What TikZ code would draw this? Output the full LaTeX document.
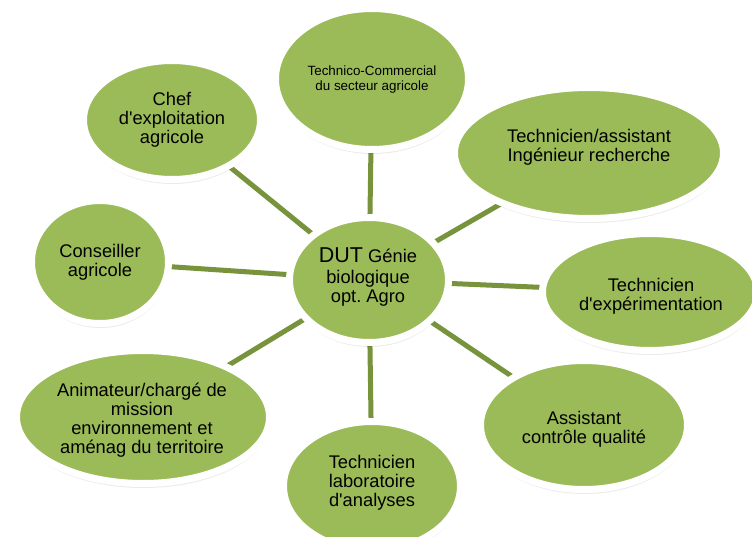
\documentclass[tikz,border=0pt]{standalone}
\usepackage{fontspec}
\setmainfont{Liberation Sans}[Ligatures=TeXOff]
\usetikzlibrary{shapes.geometric,shadows}
\definecolor{leaf}{HTML}{9BBB59}
\definecolor{stem}{HTML}{77933C}
\pgfdeclarelayer{paper}
\pgfdeclarelayer{wires}
\pgfsetlayers{paper,wires,main}
\frenchspacing
\begin{document}
\begin{tikzpicture}[x=1pt,y=-1pt,
  bubble/.style={ellipse, fill=leaf, draw=white, line width=7pt, inner sep=0pt,
    drop shadow={shadow xshift=0.5pt, shadow yshift=-4.5pt, fill=black, opacity=0.08},
    drop shadow={shadow xshift=0.3pt, shadow yshift=-2.5pt, fill=black, opacity=0.10}},
  link/.style={draw=stem, line width=5pt},
  lbl/.style={align=center, text=black, inner sep=0pt, font=\fontsize{18.3}{18.8}\selectfont}]
\begin{pgfonlayer}{paper}
\fill[white] (0,0) rectangle (752,537);
\end{pgfonlayer}
\useasboundingbox (0,0) rectangle (752,537);
% bubbles
\node[bubble, minimum width=159pt, minimum height=125pt] (C)  at (369,280) {};
\node[bubble, minimum width=193pt, minimum height=141pt] (TC) at (372,79) {};
\node[bubble, minimum width=269pt, minimum height=131pt] (TA) at (589,153) {};
\node[bubble, minimum width=215pt, minimum height=117pt] (TE) at (650,292) {};
\node[bubble, minimum width=207pt, minimum height=129pt] (AQ) at (584,425) {};
\node[bubble, minimum width=177pt, minimum height=129pt] (LA) at (372,486) {};
\node[bubble, minimum width=253pt, minimum height=133pt] (AN) at (143,417) {};
\node[bubble, minimum width=137pt, minimum height=123pt] (CO) at (100,262) {};
\node[bubble, minimum width=177pt, minimum height=119pt] (CH) at (172,120) {};
% connectors
\begin{pgfonlayer}{wires}
\draw[link] (C.center) -- (TC.center);
\draw[link] (C.center) -- (TA.center);
\draw[link] (C.center) -- (TE.center);
\draw[link] (C.center) -- (AQ.center);
\draw[link] (C.center) -- (LA.center);
\draw[link] (C.center) -- (AN.center);
\draw[link] (C.center) -- (CO.center);
\draw[link] (C.center) -- (CH.center);
\end{pgfonlayer}
% labels
\node[lbl, font=\fontsize{13.4}{15}\selectfont] (tTC) at (372,80) {Technico-Commercial\\du secteur agricole};
\node[lbl] (tTA) at (589,147) {Technicien/assistant\\Ingénieur recherche};
\node[lbl] (tTE) at (651,296) {Technicien\\d'expérimentation};
\node[lbl] (tAQ) at (584,429) {Assistant\\contrôle qualité};
\node[lbl] (tLA) at (372,483) {Technicien\\laboratoire\\d'analyses};
\node[lbl] (tAN) at (142,420) {Animateur/chargé de\\mission\\environnement et\\aménag du territoire};
\node[lbl] (tCO) at (100,262) {Conseiller\\agricole};
\node[lbl] (tCH) at (172,120) {Chef\\d'exploitation\\agricole};
\node[lbl] (tC) at (368,277) {{\fontsize{21.5}{21.5}\selectfont DUT} Génie\\[2pt]biologique\\opt. Agro};
\end{tikzpicture}
\end{document}
